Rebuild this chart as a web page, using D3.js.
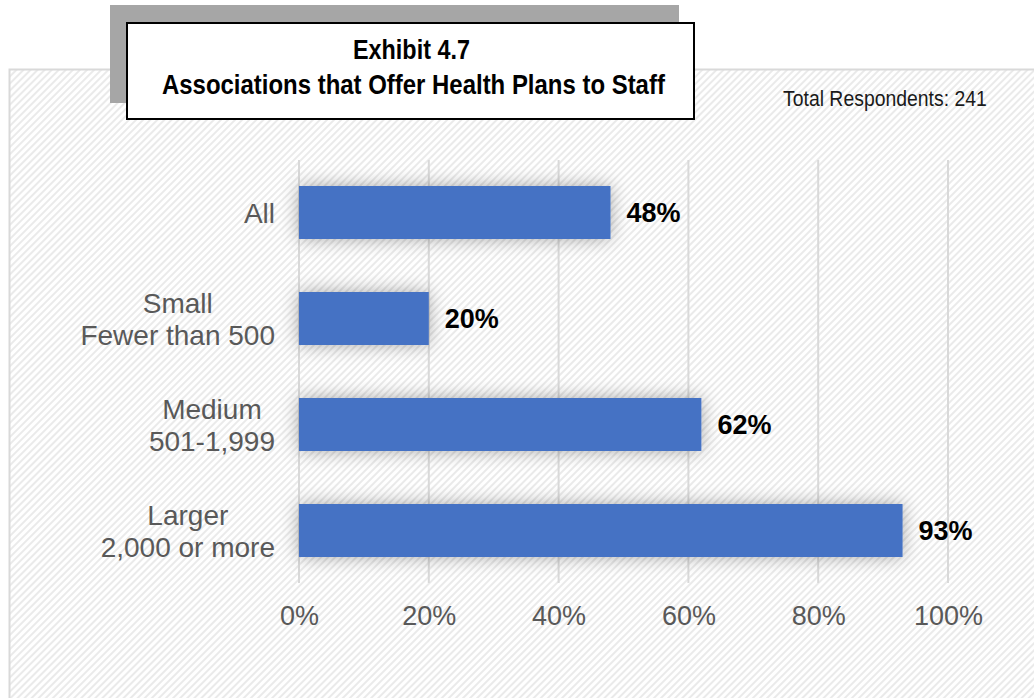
<!DOCTYPE html>
<html>
<head>
<meta charset="utf-8">
<script src="https://cdn.jsdelivr.net/npm/d3@7/dist/d3.min.js"></script>
<style>
  html, body { margin: 0; padding: 0; background: #ffffff; }
  svg { display: block; }
</style>
</head>
<body>
<svg id="chart" width="1034" height="698"></svg>
<script>
// Chart data
const categories = [
  ["All"],
  ["Small", "Fewer than 500"],
  ["Medium", "501-1,999"],
  ["Larger", "2,000 or more"]
];
const values = [48, 20, 62, 93];
const tickValues = [0, 20, 40, 60, 80, 100];
const titleLines = ["Exhibit 4.7", "Associations that Offer Health Plans to Staff"];
const noteText = "Total Respondents: 241";

const svg = d3.select("#chart");
const W = 1034, H = 698;
const sans = "'Liberation Sans', Arial, Helvetica, sans-serif";

const defs = svg.append("defs");
// diagonal hatch fill for the chart frame
const pat = defs.append("pattern")
  .attr("id", "hatch")
  .attr("patternUnits", "userSpaceOnUse")
  .attr("width", 5).attr("height", 5)
  .attr("patternTransform", "rotate(-45)");
pat.append("rect").attr("width", 5).attr("height", 5).attr("fill", "#ffffff");
pat.append("rect").attr("x", 0).attr("y", 0).attr("width", 5).attr("height", 2).attr("fill", "#eaeaea");

// soft shadow behind the bars
const f = defs.append("filter").attr("id", "barShadow")
  .attr("x", "-20%").attr("y", "-70%").attr("width", "140%").attr("height", "240%");
f.append("feDropShadow")
  .attr("dx", 0).attr("dy", 0)
  .attr("stdDeviation", 9)
  .attr("flood-color", "#000000")
  .attr("flood-opacity", 0.33);

// condensed text: draw at a given size, then squeeze horizontally to a set width
function narrowText(parent, str, x0, y0, size, weight, color, width) {
  const g = parent.append("g");
  const t = g.append("text")
    .attr("font-family", sans)
    .attr("font-weight", weight)
    .attr("font-size", size)
    .attr("fill", color)
    .text(str);
  const w = t.node().getComputedTextLength();
  g.attr("transform", `translate(${x0},${y0}) scale(${width / w},1)`);
  return g;
}

// chart frame
svg.append("rect")
  .attr("x", 9.5).attr("y", 69.5)
  .attr("width", W + 20).attr("height", H)
  .attr("fill", "url(#hatch)")
  .attr("stroke", "#d9d9d9").attr("stroke-width", 2);

// scales
const x = d3.scaleLinear().domain([0, 100]).range([299, 948]);
const y = d3.scaleBand().domain(d3.range(categories.length)).range([159.5, 583.5]).paddingInner(0.5).paddingOuter(0.25);

// gridlines
svg.append("g").selectAll("line")
  .data(tickValues)
  .join("line")
  .attr("x1", d => x(d)).attr("x2", d => x(d))
  .attr("y1", 160).attr("y2", 583)
  .attr("stroke", "#d9d9d9").attr("stroke-width", 2);

// bars
svg.append("g").attr("filter", "url(#barShadow)")
  .selectAll("rect")
  .data(values)
  .join("rect")
  .attr("x", x(0))
  .attr("y", (d, i) => y(i))
  .attr("width", d => x(d) - x(0))
  .attr("height", y.bandwidth())
  .attr("fill", "#4472c4");

// value labels
svg.append("g").selectAll("text")
  .data(values)
  .join("text")
  .attr("x", d => x(d) + 16)
  .attr("y", (d, i) => y(i) + y.bandwidth() / 2 + 9.5)
  .attr("font-family", sans)
  .attr("font-weight", "bold")
  .attr("font-size", 27)
  .attr("fill", "#000000")
  .text(d => d + "%");

// x axis tick labels
const xAxis = d3.axisBottom(x).tickValues(tickValues).tickFormat(d => d + "%").tickSize(0).tickPadding(0);
const gx = svg.append("g").attr("transform", "translate(0,606)").call(xAxis);
gx.select(".domain").remove();
gx.selectAll("text")
  .attr("font-family", sans)
  .attr("font-size", 27)
  .attr("fill", "#595959")
  .attr("dy", "0.71em");

// category labels, each block's longest line ends at the label edge
const catG = svg.append("g");
categories.forEach((lines, i) => {
  const cy = y(i) + y.bandwidth() / 2;
  const g = catG.append("g");
  const t = g.append("text")
    .attr("font-family", sans)
    .attr("font-size", 28)
    .attr("fill", "#595959")
    .attr("text-anchor", "middle");
  const lh = 32;
  lines.forEach((ln, k) => {
    t.append("tspan")
      .attr("x", 0)
      .attr("y", cy + 10 + (k - (lines.length - 1) / 2) * lh)
      .text(ln);
  });
  const bw = t.node().getBBox().width;
  g.attr("transform", `translate(${275 - bw / 2},0)`);
});

// note at top right
narrowText(svg, noteText, 783, 106, 22, "normal", "#1a1a1a", 204);

// title box with offset gray backing
svg.append("rect")
  .attr("x", 110).attr("y", 5)
  .attr("width", 569).attr("height", 98)
  .attr("fill", "#a6a6a6");
svg.append("rect")
  .attr("x", 127).attr("y", 23)
  .attr("width", 567).attr("height", 96)
  .attr("fill", "#ffffff")
  .attr("stroke", "#000000").attr("stroke-width", 2);

narrowText(svg, titleLines[0], 353, 59, 28, "bold", "#000000", 117);
narrowText(svg, titleLines[1], 162, 94, 28, "bold", "#000000", 503);
</script>
</body>
</html>
